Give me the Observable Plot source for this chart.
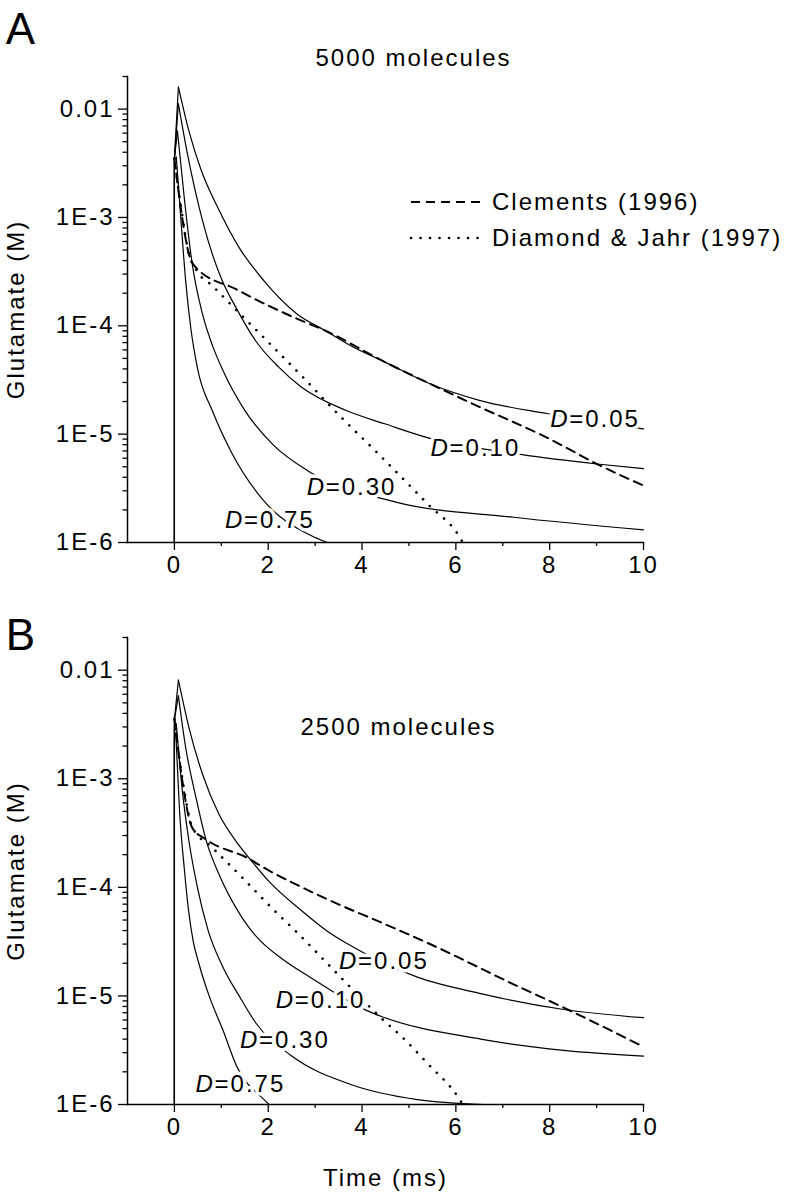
<!DOCTYPE html>
<html>
<head>
<meta charset="utf-8">
<script src="https://cdn.jsdelivr.net/npm/d3@7"></script>
<script src="https://cdn.jsdelivr.net/npm/@observablehq/plot@0.6"></script>
<style>
  html, body { margin: 0; padding: 0; background: white; }
  #wrap { position: relative; width: 787px; height: 1199px; background: white; }
  #wrap svg { display: block; }
  #wrap svg text { letter-spacing: 2px; }
</style>
</head>
<body>
<div id="wrap"></div>
<script>
const FONT = "'Liberation Sans', Arial, Helvetica, sans-serif";

// ---- ticks ----
const xMajor = [0, 2, 4, 6, 8, 10];
const xMinor = [1, 3, 5, 7, 9];
const yMajor = [1e-6, 1e-5, 1e-4, 1e-3, 1e-2];
const yLabels = ["1E-6", "1E-5", "1E-4", "1E-3", "0.01"];
const yMinor = [];
for (const dec of [1e-6, 1e-5, 1e-4, 1e-3]) for (const m of [2,3,4,5,6,7,8,9]) yMinor.push(dec * m);
yMinor.push(0.02);

const labelNames = ["0.05", "0.10", "0.30", "0.75"];

// ---- Panel A: 5000 molecules  [time ms, glutamate M] ----
const A_D005 = [[0,1e-6],[0,3.5e-3],[0.085,1.6e-2],[0.31,6.27e-3],[0.56,2.82e-3],[0.95,1.17e-3],[1.38,5.27e-4],[1.91,2.60e-4],[2.62,1.28e-4],[3.22,9.0e-5],[3.80,6.4e-5],[4.50,4.6e-5],[5.46,2.9e-5],[6.52,2.04e-5],[7.94,1.55e-5],[10,1.12e-5]];
const A_D010 = [[0,1e-6],[0,3.5e-3],[0.085,1.12e-2],[0.28,3.82e-3],[0.60,9.29e-4],[1.02,2.60e-4],[1.31,1.48e-4],[1.73,7.28e-5],[2.23,4.13e-5],[2.69,2.75e-5],[3.65,1.66e-5],[4.50,1.24e-5],[5.39,9.3e-6],[7.38,6.5e-6],[9.01,5.3e-6],[10,4.8e-6]];
const A_D030 = [[0,1e-6],[0,3.5e-3],[0.065,6.27e-3],[0.21,1.52e-3],[0.38,3.71e-4],[0.60,1.28e-4],[0.81,6.6e-5],[1.02,4.0e-5],[1.5,1.66e-5],[2.1,8.0e-6],[2.84,4.6e-6],[4.72,2.36e-6],[7.23,1.71e-6],[10,1.31e-6]];
const A_D075 = [[0,1e-6],[0,3.4e-3],[0.04,3.6e-3],[0.135,1.0e-3],[0.24,2.6e-4],[0.35,9.5e-5],[0.49,4.1e-5],[0.82,1.6e-5],[1.24,6.5e-6],[1.88,2.5e-6],[2.91,1.16e-6],[3.26,1e-6]];
const A_Clements = [[0,3.5e-3],[0.135,1.23e-3],[0.31,4.58e-4],[0.46,3.44e-4],[1.31,2.18e-4],[2.01,1.53e-4],[2.72,1.11e-4],[3.22,9.0e-5],[4.50,4.6e-5],[5.46,2.9e-5],[6.52,1.77e-5],[7.94,9.3e-6],[9.01,5.3e-6],[10,3.35e-6]];
const A_Diamond = [[0,3.5e-3],[0.135,1.3e-3],[0.31,4.6e-4],[0.46,3.3e-4],[0.81,2.34e-4],[1.43,1.25e-4],[2.07,6.6e-5],[2.71,3.46e-5],[3.51,1.5e-5],[4.36,6.5e-6],[5.43,2.2e-6],[6.06,1.16e-6],[6.15,1e-6]];
const A_labelT = [8.01, 5.46, 2.82, 1.08];
const A_labelV = [1.36e-5, 7.43e-6, 3.21e-6, 1.60e-6];

// ---- Panel B: 2500 molecules ----
const B_D005 = [[0,1e-6],[0,3.5e-3],[0.085,8.1e-3],[0.31,2.96e-3],[0.60,1.10e-3],[0.95,4.71e-4],[1.31,2.67e-4],[1.59,1.87e-4],[2.01,1.14e-4],[2.72,6.05e-5],[3.26,3.95e-5],[3.69,3.02e-5],[5.18,1.49e-5],[6.53,1.05e-5],[8.30,7.5e-6],[10,6.3e-6]];
const B_D010 = [[0,1e-6],[0,3.5e-3],[0.085,5.8e-3],[0.24,1.94e-3],[0.46,6.7e-4],[0.67,2.77e-4],[0.95,1.32e-4],[1.31,6.5e-5],[1.59,4.25e-5],[1.84,3.2e-5],[2.3,2.19e-5],[2.9,1.48e-5],[4.08,7.4e-6],[4.40,6.5e-6],[6.53,4.0e-6],[8.30,3.15e-6],[10,2.79e-6]];
const B_D030 = [[0,1e-6],[0,3.0e-3],[0.04,3.2e-3],[0.17,7.7e-4],[0.31,2.67e-4],[0.49,1.0e-4],[0.72,4.0e-5],[1.03,1.86e-5],[1.38,1.0e-5],[1.74,5.6e-6],[2.48,2.84e-6],[3.76,1.53e-6],[5.18,1.11e-6],[6.6,1e-6]];
const B_D075 = [[0,1e-6],[0,2.4e-3],[0.03,2.6e-3],[0.11,5.0e-4],[0.21,1.5e-4],[0.30,6.2e-5],[0.40,3.2e-5],[0.52,2.0e-5],[0.74,1.0e-5],[1.03,4.9e-6],[1.33,2.24e-6],[1.91,1.11e-6],[2.02,1e-6]];
const B_Clements = [[0,3.65e-3],[0.17,9.5e-4],[0.38,3.54e-4],[0.67,2.77e-4],[1.55,1.87e-4],[2.01,1.43e-4],[2.72,1.0e-4],[3.22,7.9e-5],[4.50,4.56e-5],[5.46,2.99e-5],[7.23,1.28e-5],[8.30,7.8e-6],[10,3.4e-6]];
const B_Diamond = [[0,3.5e-3],[0.17,1.0e-3],[0.38,3.6e-4],[0.81,2.32e-4],[1.43,1.25e-4],[2.07,6.5e-5],[2.69,3.56e-5],[3.33,1.85e-5],[4.40,6.3e-6],[4.90,4.0e-6],[5.39,2.4e-6],[6.06,1.15e-6],[6.15,1e-6]];
const B_labelT = [3.51, 2.16, 1.40, 0.45];
const B_labelV = [2.09e-5, 9.14e-6, 3.87e-6, 1.54e-6];

function splitAtPeak(c) {
  let k = 0;
  c.forEach((d, i) => { if (d[1] > c[k][1]) k = i; });
  return [c.slice(0, k + 1), c.slice(k)];
}

function panel(o) {
  const labels = labelNames.map((d, i) => ({t: o.labelT[i], v: o.labelV[i], d}));
  const X = d => d[0], Y = d => d[1];
  const solid = {x: X, y: Y, stroke: "black", strokeWidth: 1.2};
  const curveMarks = [];
  for (const c of o.curves) {
    const [rise, decay] = splitAtPeak(c);
    curveMarks.push(Plot.line(rise, {...solid, curve: "linear"}));
    curveMarks.push(Plot.line(decay, {...solid, curve: "monotone-x"}));
  }
  const marks = [
    Plot.frame({anchor: "left", strokeWidth: 1.5}),
    Plot.frame({anchor: "bottom", strokeWidth: 1.5}),
    Plot.axisX({ticks: xMajor, tickSize: 8, tickPadding: 5, tickFormat: d => String(d), fontSize: 24,
      label: o.xLabel, labelAnchor: "center", labelArrow: "none", labelOffset: 81, strokeWidth: 1.3}),
    Plot.axisX({ticks: xMinor, tickSize: 4, tickFormat: () => "", label: null, strokeWidth: 1.3}),
    Plot.axisY({ticks: yMajor, tickSize: 9, tickPadding: 4, tickFormat: d => yLabels[yMajor.indexOf(d)],
      fontSize: 24, label: "Glutamate (M)", labelAnchor: "center", labelArrow: "none", labelOffset: 121, strokeWidth: 1.3}),
    Plot.axisY({ticks: yMinor, tickSize: 4.5, tickFormat: () => "", label: null, strokeWidth: 1.3}),
    ...curveMarks,
    Plot.line(o.clements, {x: X, y: Y, stroke: "black", strokeWidth: 2, strokeDasharray: "9,6", curve: "monotone-x"}),
    Plot.line(o.diamond, {x: X, y: Y, stroke: "black", strokeWidth: 2.6, strokeDasharray: "0.1,9.4", strokeLinecap: "round", curve: "monotone-x"}),
    // halos
    Plot.text(labels, {x: "t", y: "v", text: () => "D", fontStyle: "italic", textAnchor: "start", fontSize: 24, fill: "white", stroke: "white", strokeWidth: 7}),
    Plot.text(labels, {x: "t", y: "v", text: d => "=" + d.d, dx: 19, textAnchor: "start", fontSize: 24, fill: "white", stroke: "white", strokeWidth: 7}),
    // label text
    Plot.text(labels, {x: "t", y: "v", text: () => "D", fontStyle: "italic", textAnchor: "start", fontSize: 24, fill: "black"}),
    Plot.text(labels, {x: "t", y: "v", text: d => "=" + d.d, dx: 19, textAnchor: "start", fontSize: 24, fill: "black"}),
    // title and panel letter
    Plot.text([o.title], {frameAnchor: "top-left", text: d => d, dx: o.titleDx, dy: o.titleDy, textAnchor: "middle", lineAnchor: "middle", fontSize: 24, fill: "black"}),
    Plot.text([o.letter], {frameAnchor: "top-left", text: d => d, dx: -106, dy: o.letterDy, textAnchor: "middle", lineAnchor: "middle", fontSize: 44, fill: "black"})
  ];
  return Plot.plot({
    width: 787, height: o.height,
    marginLeft: 127, marginRight: 144, marginTop: o.marginTop, marginBottom: o.marginBottom,
    x: {domain: [-1, 10]},
    y: {type: "log", domain: [1e-6, 0.02]},
    style: {fontFamily: FONT, fontSize: "24px", background: "white", color: "black", overflow: "visible"},
    marks
  });
}

const wrap = document.getElementById("wrap");
wrap.appendChild(panel({
  curves: [A_D005, A_D010, A_D030, A_D075], clements: A_Clements, diamond: A_Diamond,
  labelT: A_labelT, labelV: A_labelV, height: 600, marginTop: 76, marginBottom: 58,
  title: "5000 molecules", titleDx: 286, titleDy: -18, letter: "A", letterDy: -47, xLabel: null
}));
wrap.appendChild(panel({
  curves: [B_D005, B_D010, B_D030, B_D075], clements: B_Clements, diamond: B_Diamond,
  labelT: B_labelT, labelV: B_labelV, height: 599, marginTop: 37, marginBottom: 95,
  title: "2500 molecules", titleDx: 271, titleDy: 90, letter: "B", letterDy: -2, xLabel: "Time (ms)"
}));

// legend (panel A)
const legendItems = ["Clements (1996)", "Diamond & Jahr (1997)"];
const legendDash = ["9,6", "0.1,9.4"];
const leg = d3.select(wrap).append("svg")
  .attr("width", 380).attr("height", 70)
  .style("position", "absolute").style("left", "405px").style("top", "185px")
  .style("overflow", "visible");
legendItems.forEach((name, i) => {
  const g = leg.append("g").attr("transform", `translate(0,${17 + i * 36})`);
  g.append("line").attr("x1", 6).attr("x2", 77).attr("y1", 0).attr("y2", 0)
    .attr("stroke", "black").attr("stroke-width", i ? 2.6 : 2)
    .attr("stroke-linecap", i ? "round" : "butt")
    .attr("stroke-dasharray", legendDash[i]);
  g.append("text").attr("x", 87).attr("y", 0).attr("dy", "0.35em")
    .attr("font-family", FONT).attr("font-size", 24).attr("fill", "black")
    .text(name);
});
</script>
</body>
</html>
